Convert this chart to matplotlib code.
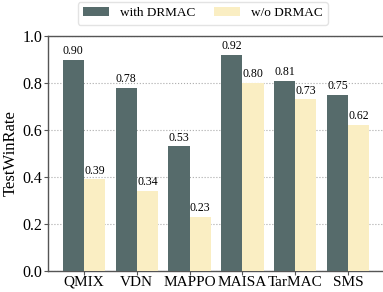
import numpy as np
import matplotlib
matplotlib.use("Agg")
import matplotlib.pyplot as plt

plt.rcParams['font.family'] = ['Liberation Serif', 'DejaVu Serif']

methods = ['QMIX', 'VDN', 'MAPPO', 'MAISA', 'TarMAC', 'SMS']
with_drmac = [0.90, 0.78, 0.53, 0.92, 0.81, 0.75]
without_drmac = [0.39, 0.34, 0.23, 0.80, 0.73, 0.62]

c_with = '#566b6b'
c_without = '#faeec3'

fig = plt.figure(figsize=(3.83, 2.92), dpi=100)
ax = fig.add_axes([48 / 383, 21 / 292, 336 / 383, 235 / 292])

x = np.arange(len(methods))
w = 0.4
b1 = ax.bar(x - w / 2, with_drmac, w, color=c_with, label='with DRMAC', zorder=3)
b2 = ax.bar(x + w / 2, without_drmac, w, color=c_without, label='w/o DRMAC', zorder=3)

# value labels on top of each bar
for bars, vals in [(b1, with_drmac), (b2, without_drmac)]:
    for rect, v in zip(bars, vals):
        ax.text(rect.get_x() + rect.get_width() / 2, v + 0.012, f'{v:.2f}',
                ha='center', va='bottom', fontsize=8.5, zorder=4)

ax.set_xlim(-0.68, 5.68)
ax.set_ylim(0, 1.0)
ax.set_yticks([0.0, 0.2, 0.4, 0.6, 0.8, 1.0])
ax.set_xticks(x)
ax.set_xticklabels(methods)
ax.tick_params(axis='y', labelsize=11.5, length=3, width=0.8, color='#555555', pad=1)
ax.tick_params(axis='x', labelsize=11, length=3, width=0.8, color='#555555', pad=0.5)
ax.set_ylabel('TestWinRate', fontsize=12, labelpad=3)
ax.yaxis.grid(True, linestyle=':', color='#aaaaaa', linewidth=0.8, zorder=0)

for s in ax.spines.values():
    s.set_color('#555555')
    s.set_linewidth(1.0)

ax.legend(loc='lower center', bbox_to_anchor=(0.46, 1.02), ncol=2,
          prop={'family': 'Liberation Serif', 'size': 9.5},
          frameon=True, edgecolor='#dddddd', handlelength=2.0,
          columnspacing=1.4, borderpad=0.4)

fig.savefig('out.png', dpi=100)
